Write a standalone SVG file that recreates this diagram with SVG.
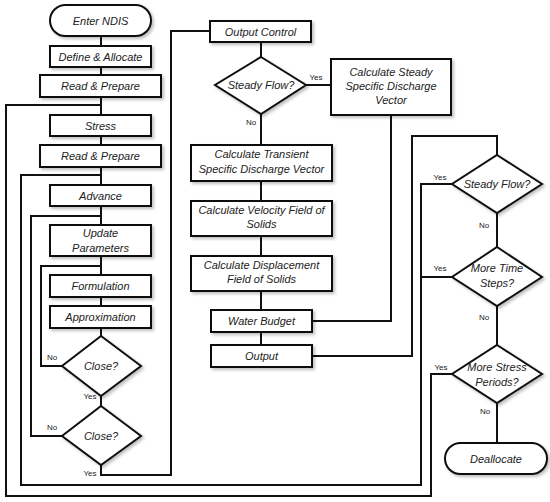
<svg xmlns="http://www.w3.org/2000/svg" width="550" height="502" viewBox="0 0 550 502">
<defs>
<filter id="sh" x="-10%" y="-10%" width="130%" height="140%">
<feDropShadow dx="2" dy="2" stdDeviation="1.5" flood-color="#000" flood-opacity="0.25"/>
</filter>
<style>
.n{fill:#fff;stroke:#111;stroke-width:2;filter:url(#sh)}
.t{font-family:"Liberation Sans",Arial,sans-serif;font-size:11px;font-style:italic;fill:#222;text-anchor:middle}
.l{font-family:"Liberation Sans",Arial,sans-serif;font-size:8px;fill:#222;text-anchor:middle}
.c{fill:none;stroke:#111;stroke-width:2}
</style>
</defs>
<rect width="550" height="502" fill="#fff"/>
<g id="connectors">
<path class="c" d="M101 36V46M101 67V75M101 97V115M101 136V145M101 167V185M101 206V225M101 256V275M101 297V306M101 328V336M101 396V406"/>
<path class="c" d="M62 366H41V266H101"/>
<path class="c" d="M62 436H31V216H101"/>
<path class="c" d="M101 465V475H171V31H210"/>
<path class="c" d="M261 42V57M261 114V145M306 85H331M261 181V201M261 236V256M261 291V310M261 332V345"/>
<path class="c" d="M391 115V321H312"/>
<path class="c" d="M312 356H412V136H497V155"/>
<path class="c" d="M452 184H421V485H21V175H101"/>
<path class="c" d="M452 277H421"/>
<path class="c" d="M497 213V247M497 306V345M497 403V443"/>
<path class="c" d="M452 374H431V496H6V105H101"/>
<text class="l" x="52" y="360">No</text>
<text class="l" x="90" y="399">Yes</text>
<text class="l" x="52" y="430">No</text>
<text class="l" x="90" y="476">Yes</text>
<text class="l" x="316" y="80">Yes</text>
<text class="l" x="251" y="125">No</text>
<text class="l" x="440" y="180">Yes</text>
<text class="l" x="484" y="228">No</text>
<text class="l" x="440" y="271">Yes</text>
<text class="l" x="484" y="320">No</text>
<text class="l" x="441" y="370">Yes</text>
<text class="l" x="485" y="414">No</text>
</g>
<g id="enter"><rect class="n" x="50" y="5" width="101" height="31" rx="15.5"/><text class="t" x="100.5" y="24.5">Enter NDIS</text></g>
<g id="define"><rect class="n" x="50" y="46" width="101" height="21"/><text class="t" x="100.5" y="60.5">Define &amp; Allocate</text></g>
<g id="read1"><rect class="n" x="40" y="75" width="121" height="22"/><text class="t" x="100.5" y="90">Read &amp; Prepare</text></g>
<g id="stress"><rect class="n" x="50" y="115" width="101" height="21"/><text class="t" x="100.5" y="129.5">Stress</text></g>
<g id="read2"><rect class="n" x="40" y="145" width="121" height="22"/><text class="t" x="100.5" y="160">Read &amp; Prepare</text></g>
<g id="advance"><rect class="n" x="50" y="185" width="101" height="21"/><text class="t" x="100.5" y="199.5">Advance</text></g>
<g id="update"><rect class="n" x="50" y="225" width="101" height="31"/><text class="t" x="100.5" y="237">Update</text><text class="t" x="100.5" y="252">Parameters</text></g>
<g id="formulation"><rect class="n" x="50" y="275" width="101" height="22"/><text class="t" x="100.5" y="290">Formulation</text></g>
<g id="approximation"><rect class="n" x="50" y="306" width="101" height="22"/><text class="t" x="100.5" y="321">Approximation</text></g>
<g id="close1"><polygon class="n" points="101,336 141,366 101,396 62,366"/><text class="t" x="101" y="370">Close?</text></g>
<g id="close2"><polygon class="n" points="101,406 141,436 101,465 62,436"/><text class="t" x="101" y="440">Close?</text></g>
<g id="outputcontrol"><rect class="n" x="210" y="21" width="101" height="21"/><text class="t" x="260.5" y="35.5">Output Control</text></g>
<g id="steady1"><polygon class="n" points="261,57 306,85 261,114 215,85"/><text class="t" x="261" y="89">Steady Flow?</text></g>
<g id="steadyvec"><rect class="n" x="331" y="59" width="120" height="56"/><text class="t" x="391" y="76">Calculate Steady</text><text class="t" x="391" y="90">Specific Discharge</text><text class="t" x="391" y="104">Vector</text></g>
<g id="transient"><rect class="n" x="191" y="145" width="141" height="36"/><text class="t" x="261.5" y="158">Calculate Transient</text><text class="t" x="261.5" y="173">Specific Discharge Vector</text></g>
<g id="velocity"><rect class="n" x="191" y="201" width="141" height="35"/><text class="t" x="261.5" y="214">Calculate Velocity Field of</text><text class="t" x="261.5" y="228">Solids</text></g>
<g id="displacement"><rect class="n" x="191" y="256" width="141" height="35"/><text class="t" x="261.5" y="269">Calculate Displacement</text><text class="t" x="261.5" y="283">Field of Solids</text></g>
<g id="waterbudget"><rect class="n" x="211" y="310" width="101" height="22"/><text class="t" x="261.5" y="325">Water Budget</text></g>
<g id="output"><rect class="n" x="211" y="345" width="101" height="22"/><text class="t" x="261.5" y="360">Output</text></g>
<g id="steady2"><polygon class="n" points="497,155 542,184 497,213 452,184"/><text class="t" x="497" y="188">Steady Flow?</text></g>
<g id="moretime"><polygon class="n" points="497,247 542,277 497,306 452,277"/><text class="t" x="497" y="272">More Time</text><text class="t" x="497" y="287">Steps?</text></g>
<g id="morestress"><polygon class="n" points="497,345 542,374 497,403 452,374"/><text class="t" x="497" y="371">More Stress</text><text class="t" x="497" y="386">Periods?</text></g>
<g id="deallocate"><rect class="n" x="445" y="443" width="102" height="31" rx="15.5"/><text class="t" x="496" y="462.5">Deallocate</text></g>
</svg>
